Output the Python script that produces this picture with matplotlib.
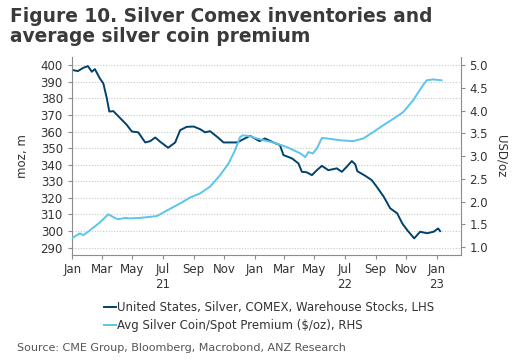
import numpy as np
import pandas as pd
import matplotlib
matplotlib.use("Agg")
import matplotlib.pyplot as plt

# COMEX silver warehouse stocks (moz), LHS
stock_dates = ["2021-01-02", "2021-01-12", "2021-01-23", "2021-02-01", "2021-02-09", "2021-02-15",
               "2021-02-25", "2021-03-04", "2021-03-11", "2021-03-16", "2021-03-24", "2021-04-06",
               "2021-04-20", "2021-04-30", "2021-05-13", "2021-05-27", "2021-06-06", "2021-06-16",
               "2021-06-26", "2021-07-12", "2021-07-26", "2021-08-05", "2021-08-18", "2021-09-01",
               "2021-09-14", "2021-09-24", "2021-10-04", "2021-10-18", "2021-10-31", "2021-11-13",
               "2021-11-27", "2021-12-10", "2021-12-23", "2022-01-11", "2022-01-22", "2022-02-08",
               "2022-02-21", "2022-02-28", "2022-03-17", "2022-03-30", "2022-04-06", "2022-04-16",
               "2022-04-26", "2022-05-06", "2022-05-16", "2022-05-29", "2022-06-15", "2022-06-25",
               "2022-07-05", "2022-07-15", "2022-07-22", "2022-07-26", "2022-08-11", "2022-08-24",
               "2022-09-03", "2022-09-17", "2022-09-30", "2022-10-14", "2022-10-24", "2022-11-03",
               "2022-11-17", "2022-11-29", "2022-12-13", "2022-12-26", "2023-01-04", "2023-01-08"]
stock_vals = [397, 396.4, 398.4, 399.4, 396, 397.6,
              392, 389, 380, 372, 372.3, 368.3,
              364, 360, 359.5, 353.4, 354.2, 356.4,
              353.8, 350.2, 353.4, 360.8, 362.8, 363,
              361.4, 359.5, 360.2, 356.8, 353.4, 353.4,
              353.4, 355.4, 357.4, 354.2, 355.8, 353.4,
              351.8, 345.8, 343.8, 340.8, 335.7, 335.4,
              333.7, 336.7, 339.3, 336.7, 337.8, 335.7,
              338.8, 342.2, 340.2, 336.1, 333.3, 330.7,
              326.7, 320.7, 313.7, 310.7, 304.7, 300.6,
              295.6, 299.6, 298.7, 299.6, 301.6, 300]

# average silver coin premium over spot ($/oz), RHS
prem_dates = ["2021-01-01", "2021-01-16", "2021-01-23", "2021-02-02", "2021-02-25", "2021-03-14",
              "2021-03-27", "2021-04-03", "2021-04-16", "2021-04-26", "2021-05-16", "2021-06-19",
              "2021-07-09", "2021-08-05", "2021-08-25", "2021-09-14", "2021-10-04", "2021-10-24",
              "2021-11-10", "2021-11-23", "2021-12-03", "2021-12-09", "2021-12-23", "2021-12-30",
              "2022-01-12", "2022-02-08", "2022-03-07", "2022-04-03", "2022-04-13", "2022-04-19",
              "2022-04-28", "2022-05-06", "2022-05-16", "2022-05-26", "2022-06-22", "2022-07-18",
              "2022-08-07", "2022-08-27", "2022-09-16", "2022-10-06", "2022-10-26", "2022-11-15",
              "2022-12-02", "2022-12-12", "2022-12-25", "2023-01-11"]
prem_vals = [1.20, 1.30, 1.26, 1.34, 1.54, 1.72,
             1.64, 1.61, 1.64, 1.63, 1.64, 1.68,
             1.80, 1.96, 2.09, 2.18, 2.33, 2.58,
             2.84, 3.13, 3.42, 3.46, 3.44, 3.41,
             3.37, 3.30, 3.20, 3.06, 2.98, 3.09,
             3.06, 3.17, 3.40, 3.39, 3.35, 3.33,
             3.39, 3.53, 3.68, 3.82, 3.97, 4.23,
             4.52, 4.67, 4.69, 4.67]

tick_dates = pd.date_range("2021-01-01", "2023-01-01", freq="2MS")
tick_labels = ["Jan", "Mar", "May", "Jul\n21", "Sep", "Nov",
               "Jan", "Mar", "May", "Jul\n22", "Sep", "Nov", "Jan\n23"]

dark = "#00426b"
light = "#5bc5ea"
axcol = "#8c8c8c"
txt = "#333333"

plt.rcParams["font.family"] = "DejaVu Sans"

fig = plt.figure(figsize=(5.21, 3.64), dpi=100)
ax = fig.add_axes([0.138, 0.2995, 0.746, 0.5435])
ax2 = ax.twinx()

l1, = ax.plot(pd.to_datetime(stock_dates), stock_vals, color=dark, lw=1.4,
              label="United States, Silver, COMEX, Warehouse Stocks, LHS")
l2, = ax2.plot(pd.to_datetime(prem_dates), prem_vals, color=light, lw=1.4,
               label="Avg Silver Coin/Spot Premium ($/oz), RHS")

ax.set_xlim(pd.Timestamp("2020-12-31"), pd.Timestamp("2023-02-18"))
ax.set_ylim(285.6, 404.8)
ax2.set_ylim(0.824, 5.18)
ax.set_yticks(np.arange(290, 401, 10))
ax2.set_yticks(np.arange(1.0, 5.01, 0.5))
ax2.yaxis.set_major_formatter(matplotlib.ticker.FormatStrFormatter("%.1f"))
ax.set_xticks(tick_dates)
ax.set_xticklabels(tick_labels)

ax.grid(axis="y", color="#c8c8c8", ls=(0, (1, 1.5)), lw=0.8)
ax.set_axisbelow(True)

for a in (ax, ax2):
    a.spines["top"].set_visible(False)
    for s in ("left", "right", "bottom"):
        a.spines[s].set_color(axcol)
    a.tick_params(colors=axcol, labelcolor=txt, labelsize=8.5, length=3, width=0.8)
ax.spines["right"].set_visible(False)
ax2.spines["left"].set_visible(False)
ax2.spines["bottom"].set_visible(False)
ax.tick_params(axis="x", pad=3)

ax.set_ylabel("moz, m", fontsize=8.5, color=txt, labelpad=8)
ax2.set_ylabel("USD/oz", fontsize=8.5, color=txt, rotation=270, labelpad=14)

fig.legend(handles=[l1, l2], loc="upper left", bbox_to_anchor=(0.19, 0.187),
           frameon=False, fontsize=8.5, handlelength=1.0, handletextpad=0.1,
           labelspacing=0.45, borderaxespad=0, labelcolor=txt)

fig.text(0.019, 0.982, "Figure 10. Silver Comex inventories and\naverage silver coin premium",
         fontsize=13.4, fontweight="bold", color="#3a3a3a", va="top", ha="left", linespacing=1.12)
fig.text(0.033, 0.045, "Source: CME Group, Bloomberg, Macrobond, ANZ Research",
         fontsize=8, color="#555555", va="center", ha="left")

fig.savefig("out.png", dpi=100)
